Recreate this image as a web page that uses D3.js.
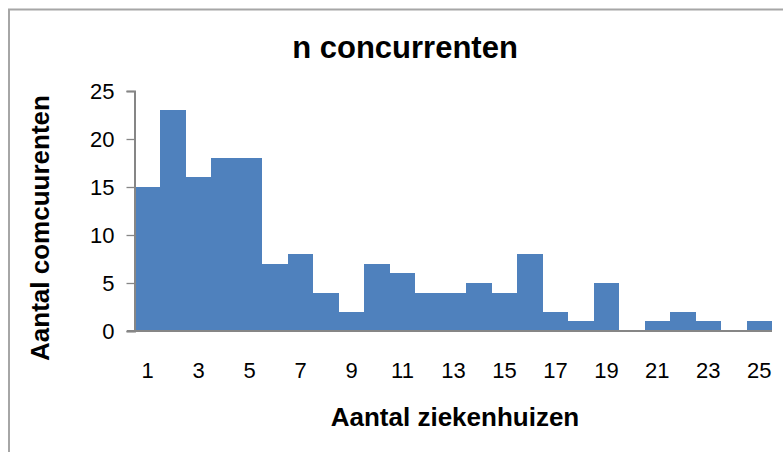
<!DOCTYPE html>
<html><head><meta charset="utf-8">
<script src="https://cdn.jsdelivr.net/npm/d3@7"></script>
<style>body{margin:0;background:#fff}svg{display:block}text{font-family:"Liberation Sans",Arial,sans-serif}</style>
</head><body><svg id="c" width="783" height="452"></svg>
<script>
const categories = d3.range(1, 26);
const values = [15,23,16,18,18,7,8,4,2,7,6,4,4,5,4,8,2,1,5,0,1,2,1,0,1];
const yTicks = [0,5,10,15,20,25];
const xTickLabels = [1,3,5,7,9,11,13,15,17,19,21,23,25];
const title = "n concurrenten";
const xTitle = "Aantal ziekenhuizen";
const yTitle = "Aantal comcuurenten";

const svg = d3.select("#c");
svg.append("rect").attr("x",9).attr("y",9.5).attr("width",800).attr("height",500)
  .attr("fill","#fff").attr("stroke","#a6a6a6").attr("stroke-width",2);

const L = 135, R = 772, T = 91, B = 331;
const x = d3.scaleBand().domain(categories).range([L, R]).padding(0);
const y = d3.scaleLinear().domain([0, 25]).range([B, T]);

svg.append("g").attr("shape-rendering","crispEdges").selectAll("rect").data(values).join("rect")
  .attr("x",(d,i)=>Math.round(x(categories[i])))
  .attr("width",(d,i)=>Math.round(x(categories[i])+x.bandwidth())-Math.round(x(categories[i])))
  .attr("y",d=>Math.round(y(d))).attr("height",d=>B-Math.round(y(d)))
  .attr("fill","#4f81bd");

// y axis
const ya = svg.append("g").attr("transform",`translate(${L-0.5},0)`)
  .call(d3.axisLeft(y).tickValues(yTicks).tickSize(8).tickPadding(12));
ya.select(".domain").attr("stroke","#868686").attr("stroke-width",2);
ya.selectAll(".tick line").attr("stroke","#868686").attr("stroke-width",1.3);
ya.selectAll(".tick text").attr("font-size",22).attr("fill","#000")
  .attr("font-family","Liberation Sans, Arial, sans-serif");

// x axis
const xa = svg.append("g").attr("transform",`translate(0,${B})`)
  .call(d3.axisBottom(x).tickValues(xTickLabels).tickSize(0).tickPadding(31).tickSizeOuter(0));
xa.select(".domain").attr("stroke","#868686").attr("stroke-width",2).attr("d",`M${L-8},0H${R}`);
xa.selectAll(".tick text").attr("font-size",22).attr("fill","#000")
  .attr("font-family","Liberation Sans, Arial, sans-serif");

svg.append("text").attr("x",405).attr("y",58).attr("text-anchor","middle")
  .attr("font-size",31).attr("font-weight","bold").text(title);
svg.append("text").attr("x",455).attr("y",426).attr("text-anchor","middle")
  .attr("font-size",26).attr("font-weight","bold").text(xTitle);
svg.append("text").attr("transform","translate(49,228) rotate(-90)").attr("text-anchor","middle")
  .attr("font-size",26).attr("font-weight","bold").text(yTitle);
</script></body></html>
